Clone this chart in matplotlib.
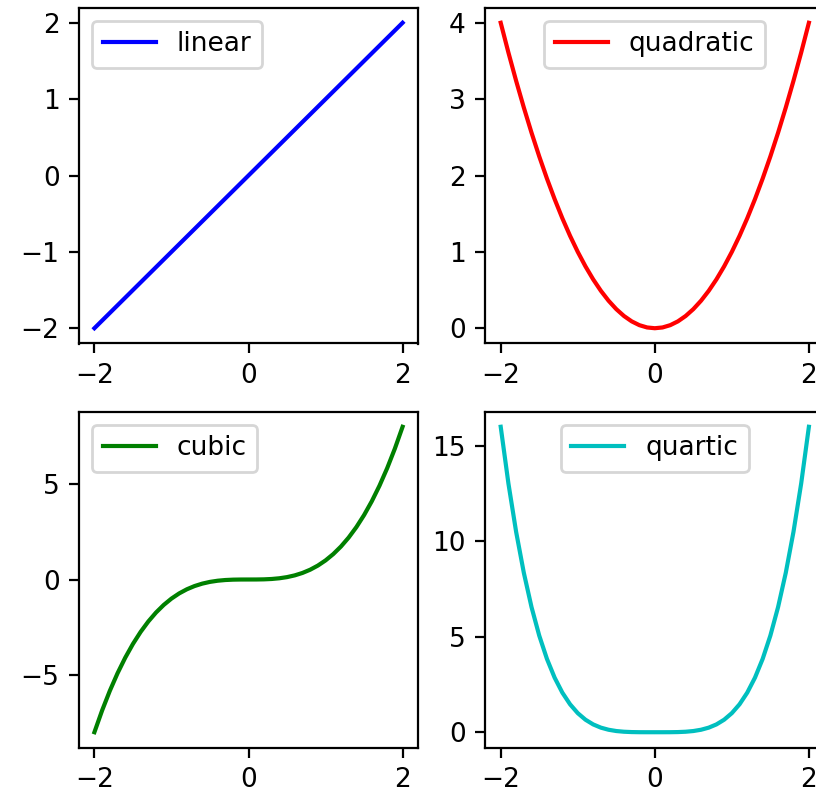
import matplotlib
matplotlib.use("Agg")
import matplotlib.pyplot as plt

x_vals = [-2.0, -1.9, -1.8, -1.7, -1.6, -1.5, -1.4, -1.3, -1.2, -1.1, -1.0,
          -0.9, -0.8, -0.7, -0.6, -0.5, -0.4, -0.3, -0.2, -0.1, 0.0,
          0.1, 0.2, 0.3, 0.4, 0.5, 0.6, 0.7, 0.8, 0.9, 1.0,
          1.1, 1.2, 1.3, 1.4, 1.5, 1.6, 1.7, 1.8, 1.9, 2.0]

linear_vals = [-2.0, -1.9, -1.8, -1.7, -1.6, -1.5, -1.4, -1.3, -1.2, -1.1, -1.0,
               -0.9, -0.8, -0.7, -0.6, -0.5, -0.4, -0.3, -0.2, -0.1, 0.0,
               0.1, 0.2, 0.3, 0.4, 0.5, 0.6, 0.7, 0.8, 0.9, 1.0,
               1.1, 1.2, 1.3, 1.4, 1.5, 1.6, 1.7, 1.8, 1.9, 2.0]

quadratic_vals = [4.00, 3.61, 3.24, 2.89, 2.56, 2.25, 1.96, 1.69, 1.44, 1.21, 1.00,
                  0.81, 0.64, 0.49, 0.36, 0.25, 0.16, 0.09, 0.04, 0.01, 0.00,
                  0.01, 0.04, 0.09, 0.16, 0.25, 0.36, 0.49, 0.64, 0.81, 1.00,
                  1.21, 1.44, 1.69, 1.96, 2.25, 2.56, 2.89, 3.24, 3.61, 4.00]

cubic_vals = [-8.000, -6.859, -5.832, -4.913, -4.096, -3.375, -2.744, -2.197, -1.728, -1.331, -1.000,
              -0.729, -0.512, -0.343, -0.216, -0.125, -0.064, -0.027, -0.008, -0.001, 0.000,
              0.001, 0.008, 0.027, 0.064, 0.125, 0.216, 0.343, 0.512, 0.729, 1.000,
              1.331, 1.728, 2.197, 2.744, 3.375, 4.096, 4.913, 5.832, 6.859, 8.000]

quartic_vals = [16.0, 13.0321, 10.4976, 8.3521, 6.5536, 5.0625, 3.8416, 2.8561, 2.0736, 1.4641, 1.0,
                0.6561, 0.4096, 0.2401, 0.1296, 0.0625, 0.0256, 0.0081, 0.0016, 0.0001, 0.0,
                0.0001, 0.0016, 0.0081, 0.0256, 0.0625, 0.1296, 0.2401, 0.4096, 0.6561, 1.0,
                1.4641, 2.0736, 2.8561, 3.8416, 5.0625, 6.5536, 8.3521, 10.4976, 13.0321, 16.0]

series_labels = ["linear", "quadratic", "cubic", "quartic"]
x_ticks = [-2, 0, 2]

plt.rcParams['font.size'] = 9.5

fig = plt.figure(figsize=(4.08, 3.94), dpi=200)

W, H = 816.0, 788.0
def pos(left_px, top_px, w_px, h_px):
    return [left_px / W, (H - top_px - h_px) / H, w_px / W, h_px / H]

axes_px = [
    (79.0, 7.5, 339.0, 336.0),
    (485.3, 7.5, 339.0, 336.0),
    (79.0, 411.5, 339.0, 336.0),
    (485.3, 411.5, 339.0, 336.0),
]

data = [linear_vals, quadratic_vals, cubic_vals, quartic_vals]
colors = ["b", "r", "g", "c"]
locs = ["upper left", "upper center", "upper left", "upper center"]

for (l, t, w, h), ys, c, lab, loc in zip(axes_px, data, colors, series_labels, locs):
    ax = fig.add_axes(pos(l, t, w, h))
    ax.plot(x_vals, ys, color=c, label=lab)
    ax.set_xticks(x_ticks)
    ax.legend(loc=loc)

fig.savefig("out.png", dpi=200)
